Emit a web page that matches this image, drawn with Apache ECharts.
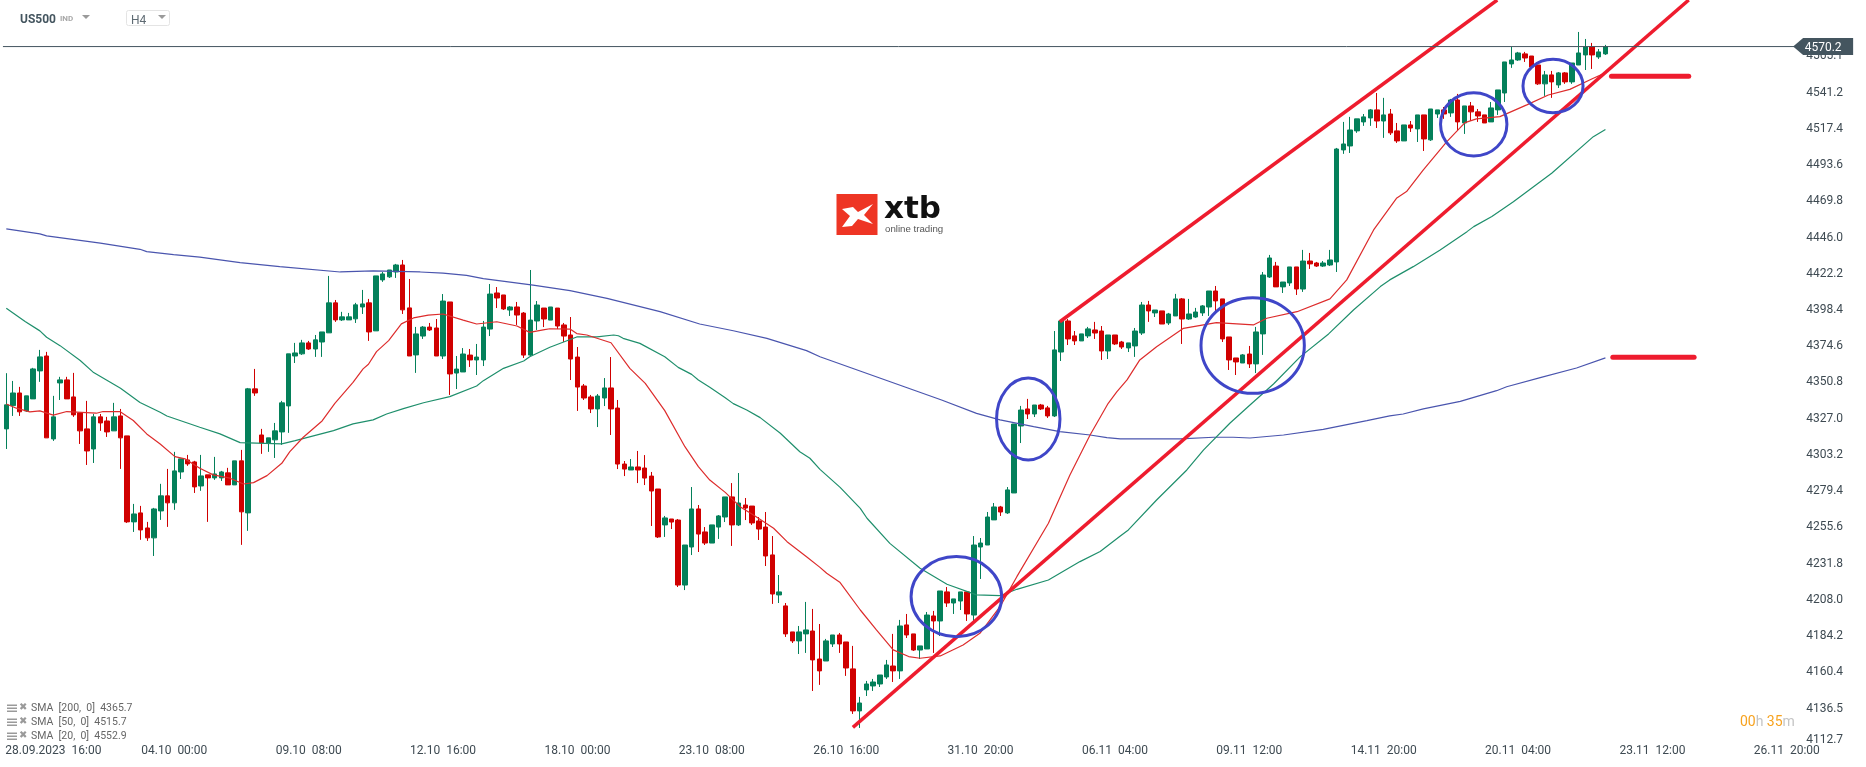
<!DOCTYPE html>
<html>
  <head>
    <meta charset="utf-8" />
    <title>US500 H4</title>
    <script src="https://cdn.jsdelivr.net/npm/echarts@6/dist/echarts.min.js"></script>
    <style>
      html, body { margin: 0; padding: 0; background: #fff; }
      #main { width: 1866px; height: 767px; }
    </style>
  </head>
  <body>
    <div id="main"></div>

    <script type="text/javascript">
      // open, close, low, high
      const ohlc = [
        [4319.0,4334.8,4305.8,4355.6],[4334.3,4342.6,4327.5,4350.5],[4342.6,4330.2,4327.5,4346.6],[4330.8,4340.7,4330.2,4340.7],
        [4338.7,4358.4,4338.7,4359.1],[4357.1,4366.3,4349.9,4370.9],[4366.9,4313.1,4313.1,4369.6],[4312.4,4326.9,4311.1,4340.7],
        [4349.2,4351.2,4338.0,4353.2],[4351.2,4338.7,4338.7,4353.2],[4340.0,4328.2,4326.9,4355.8],[4329.5,4317.7,4309.1,4329.5],
        [4319.0,4304.5,4295.3,4337.4],[4305.8,4326.9,4296.6,4328.8],[4326.9,4322.9,4317.7,4328.8],[4324.2,4317.0,4313.7,4326.9],
        [4317.7,4326.9,4317.7,4336.1],[4327.5,4313.1,4292.7,4332.1],[4314.4,4257.9,4257.2,4314.4],[4257.9,4263.1,4251.3,4269.7],
        [4263.8,4252.6,4246.1,4268.4],[4253.9,4247.4,4245.4,4257.9],[4247.4,4266.4,4235.5,4267.1],[4265.1,4275.0,4259.2,4282.9],
        [4275.0,4270.4,4254.6,4292.7],[4270.4,4291.4,4265.8,4303.9],[4290.7,4299.3,4286.1,4299.3],[4298.6,4296.0,4294.7,4301.9],
        [4297.3,4280.9,4276.9,4298.0],[4281.5,4288.1,4278.3,4301.9],[4288.8,4286.8,4257.9,4288.8],[4286.8,4289.4,4285.5,4300.6],
        [4286.8,4290.7,4284.8,4291.4],[4290.1,4282.2,4282.2,4293.4],[4282.2,4298.0,4282.2,4298.0],[4298.0,4264.5,4242.8,4305.2],
        [4263.8,4345.3,4252.0,4345.9],[4345.3,4342.6,4340.7,4358.4],[4315.0,4309.8,4302.6,4319.0],[4309.8,4313.1,4303.9,4313.1],
        [4311.8,4317.7,4299.9,4322.9],[4317.0,4336.1,4308.5,4337.4],[4334.1,4368.3,4316.4,4368.3],[4366.9,4368.9,4362.3,4375.5],
        [4368.3,4375.5,4367.6,4377.5],[4375.5,4371.5,4370.9,4376.8],[4371.5,4377.5,4366.3,4380.7],[4376.1,4382.7,4366.3,4382.7],
        [4382.1,4401.8,4382.1,4419.5],[4401.8,4390.6,4389.3,4403.7],[4390.6,4392.6,4389.9,4395.9],[4390.6,4392.6,4390.6,4395.2],
        [4391.3,4400.5,4388.6,4401.8],[4399.1,4401.1,4394.5,4410.3],[4401.8,4382.7,4376.8,4404.4],[4383.4,4419.5,4383.4,4419.5],
        [4416.9,4420.8,4415.6,4422.1],[4418.9,4423.4,4418.2,4423.4],[4422.1,4426.7,4418.2,4427.4],[4426.7,4397.2,4394.5,4430.0],
        [4398.5,4366.9,4366.9,4417.5],[4367.6,4381.4,4355.8,4386.0],[4380.0,4385.9,4378.1,4386.6],[4385.9,4384.0,4383.3,4388.6],
        [4385.3,4366.9,4366.9,4391.2],[4366.9,4403.0,4364.9,4407.6],[4402.4,4355.1,4341.3,4402.4],[4355.7,4358.3,4345.2,4366.9],
        [4356.4,4368.2,4356.4,4372.1],[4367.5,4364.3,4359.7,4371.5],[4364.3,4366.2,4354.4,4374.8],[4364.3,4385.9,4360.3,4389.9],
        [4384.6,4407.6,4380.0,4414.2],[4408.3,4405.0,4398.4,4412.2],[4407.0,4397.8,4397.1,4407.0],[4397.1,4399.1,4393.2,4399.7],
        [4399.1,4393.8,4387.3,4402.4],[4395.1,4367.5,4365.6,4395.8],[4367.5,4390.5,4366.9,4423.4],[4389.9,4400.4,4384.0,4403.0],
        [4398.4,4391.2,4385.9,4398.4],[4390.5,4399.1,4390.5,4399.1],[4398.4,4386.6,4384.6,4398.4],[4387.3,4380.0,4376.1,4388.6],
        [4380.7,4364.9,4351.1,4392.5],[4366.2,4346.5,4330.8,4372.8],[4347.2,4339.3,4338.0,4348.5],[4340.0,4332.1,4329.4,4341.3],
        [4332.1,4340.6,4320.2,4341.9],[4339.3,4345.9,4334.0,4352.4],[4345.9,4332.1,4315.0,4366.2],[4332.7,4295.9,4292.6,4338.0],
        [4295.9,4292.6,4288.0,4297.9],[4292.0,4294.0,4292.0,4299.2],[4294.0,4292.0,4283.4,4304.5],[4293.3,4286.7,4282.1,4301.8],
        [4288.0,4278.2,4255.2,4290.7],[4279.5,4248.0,4247.3,4279.5],[4255.9,4260.5,4248.0,4261.8],[4259.8,4257.8,4253.2,4259.8],
        [4259.1,4216.4,4215.1,4259.8],[4216.4,4242.7,4213.1,4242.7],[4241.4,4266.4,4236.1,4280.8],[4266.4,4249.9,4238.1,4269.0],
        [4251.3,4244.0,4242.7,4254.5],[4244.0,4255.9,4244.0,4255.9],[4254.5,4261.8,4246.7,4262.4],[4261.1,4274.3,4257.8,4274.3],
        [4274.3,4255.9,4242.1,4283.4],[4255.9,4270.3,4255.2,4290.0],[4269.0,4267.0,4259.1,4273.6],[4268.3,4257.2,4255.9,4268.3],
        [4258.5,4253.2,4246.0,4261.1],[4254.5,4235.5,4228.9,4264.4],[4236.2,4210.5,4204.0,4248.6],[4209.9,4211.9,4204.6,4223.0],
        [4202.7,4184.3,4182.3,4204.6],[4185.6,4179.7,4178.3,4185.6],[4179.7,4185.6,4171.1,4189.5],[4184.3,4186.9,4171.8,4205.3],
        [4186.2,4167.2,4146.8,4200.7],[4167.8,4160.0,4150.8,4190.8],[4166.5,4179.7,4166.5,4181.0],[4177.7,4183.6,4175.7,4183.6],
        [4183.6,4177.7,4171.8,4184.9],[4179.0,4161.9,4156.7,4179.0],[4161.3,4133.7,4131.7,4176.4],[4133.7,4138.9,4122.5,4142.9],
        [4147.5,4151.4,4143.5,4153.4],[4150.1,4152.7,4146.8,4154.7],[4151.4,4157.3,4149.4,4157.3],[4156.0,4163.9,4154.7,4167.2],
        [4163.2,4160.0,4152.7,4184.3],[4160.0,4189.5,4154.7,4193.5],[4190.2,4183.6,4181.6,4197.4],[4184.3,4173.7,4173.1,4184.3],
        [4173.7,4176.4,4167.8,4176.4],[4174.4,4196.7,4174.4,4198.7],[4196.1,4192.8,4171.8,4199.4],[4192.8,4212.5,4182.9,4212.5],
        [4211.9,4204.6,4202.0,4215.1],[4204.6,4207.3,4197.4,4207.3],[4205.9,4211.9,4200.0,4211.9],[4211.9,4197.4,4192.8,4211.9],
        [4196.7,4242.7,4192.8,4248.6],[4241.4,4244.0,4220.4,4247.3],[4242.7,4261.1,4242.7,4264.4],[4259.2,4267.7,4259.2,4270.3],
        [4267.7,4264.4,4261.8,4268.4],[4263.8,4278.9,4263.1,4280.8],[4276.9,4322.2,4276.9,4322.2],[4320.9,4331.4,4309.7,4334.1],
        [4332.1,4328.8,4325.5,4338.7],[4328.8,4334.7,4326.8,4334.7],[4334.7,4332.1,4331.4,4335.4],[4332.8,4327.5,4326.2,4334.1],
        [4327.5,4370.9,4326.8,4383.3],[4369.5,4389.9,4363.6,4389.9],[4389.9,4378.1,4374.1,4391.2],[4380.1,4376.8,4374.1,4383.3],
        [4376.8,4381.4,4376.8,4381.4],[4380.1,4384.7,4378.7,4386.0],[4384.0,4382.0,4378.1,4389.3],[4383.3,4370.2,4364.3,4386.6],
        [4370.2,4380.7,4364.9,4380.7],[4380.7,4374.8,4374.1,4380.7],[4376.1,4372.8,4371.5,4376.8],[4372.2,4375.5,4369.5,4375.5],
        [4373.5,4383.3,4366.3,4385.3],[4382.0,4400.4,4380.7,4402.4],[4400.4,4396.5,4389.3,4403.1],[4395.2,4397.1,4392.5,4397.1],
        [4396.5,4387.9,4387.9,4396.5],[4388.6,4394.5,4387.3,4395.2],[4393.2,4404.4,4393.2,4407.7],[4404.4,4391.2,4374.8,4405.0],
        [4391.2,4394.5,4390.6,4404.4],[4392.5,4395.8,4391.9,4398.5],[4395.2,4399.8,4393.2,4400.4],[4399.1,4409.6,4393.2,4409.6],
        [4409.6,4403.1,4395.8,4412.9],[4404.4,4378.1,4376.1,4404.4],[4379.4,4364.3,4357.7,4379.4],[4365.6,4363.0,4354.4,4365.6],
        [4362.3,4367.6,4362.3,4368.2],[4368.2,4361.7,4359.0,4373.5],[4361.7,4382.7,4355.7,4386.0],[4381.4,4420.1,4367.6,4422.1],
        [4418.8,4431.3,4418.2,4433.3],[4426.0,4412.3,4412.3,4428.7],[4412.3,4415.5,4408.3,4415.5],[4414.9,4425.4,4412.9,4425.4],
        [4425.4,4410.9,4407.0,4425.4],[4410.9,4429.3,4409.0,4436.6],[4429.3,4427.4,4424.1,4434.6],[4428.0,4426.0,4425.4,4428.7],
        [4426.0,4428.0,4425.4,4429.3],[4426.7,4430.0,4426.0,4436.6],[4428.7,4502.9,4422.1,4503.6],[4502.3,4506.2,4499.7,4520.7],
        [4504.9,4515.4,4500.3,4524.0],[4514.8,4522.7,4513.5,4522.7],[4520.7,4524.0,4518.1,4525.9],[4523.3,4528.6,4518.1,4529.2],
        [4528.6,4521.3,4516.7,4539.7],[4521.3,4525.3,4510.2,4536.5],[4525.9,4513.5,4512.1,4529.2],[4514.8,4508.2,4506.9,4520.0],
        [4508.2,4518.7,4508.2,4518.7],[4518.7,4516.7,4514.1,4521.3],[4516.1,4525.3,4507.5,4525.3],[4525.3,4509.5,4501.6,4525.3],
        [4508.9,4529.2,4508.2,4529.2],[4525.9,4528.6,4523.3,4528.6],[4528.6,4525.9,4522.7,4530.5],[4526.6,4535.1,4524.0,4535.8],
        [4535.1,4520.7,4514.8,4539.1],[4520.0,4531.2,4512.8,4531.2],[4531.2,4527.3,4521.3,4533.8],[4527.3,4524.6,4520.7,4529.2],
        [4525.3,4520.0,4520.0,4525.3],[4520.7,4529.9,4520.7,4533.8],[4528.6,4541.7,4525.3,4541.7],[4539.7,4560.1,4533.8,4560.1],
        [4558.8,4561.4,4556.2,4570.0],[4561.4,4566.0,4560.8,4566.7],[4565.4,4562.7,4560.1,4566.7],[4564.0,4556.8,4556.8,4564.0],
        [4558.1,4545.7,4545.0,4558.1],[4545.7,4551.6,4537.8,4554.2],[4551.6,4547.0,4536.5,4554.2],[4545.0,4552.9,4543.0,4553.5],
        [4552.9,4547.0,4545.7,4553.5],[4547.0,4559.4,4545.7,4559.4],[4558.1,4566.0,4558.1,4579.8],[4564.7,4570.0,4554.8,4575.2],
        [4570.0,4564.7,4555.5,4572.6],[4563.4,4566.7,4562.1,4568.6],[4565.4,4570.2,4564.7,4571.3]
      ];

      // moving averages, [candle number, price]
      const sma200 = [
        [0,4450.4],[5,4447.1],[6,4445.8],[14,4441],[19.9,4437],[20.9,4435.5],[24.9,4433.5],[28.8,4431.8],[34.8,4428.3],[40.7,4425.6],
        [49.7,4422.1],[54.6,4422.8],[61.6,4422.1],[65,4421.4],[68.5,4419.9],[71,4417.7],[78.4,4413.5],[83.9,4409.8],[89.4,4404.8],
        [97.3,4396],[103.2,4387.9],[108.2,4383.5],[113.2,4378.5],[119.1,4370.4],[121.1,4366.4],[139.2,4338],[144.4,4329.2],[147.9,4324.9],
        [152.9,4320.5],[156.8,4317.2],[161.3,4315],[163.8,4313.3],[165.8,4312.4],[174.7,4312.4],[179.7,4313.5],[182.6,4313.5],[185.1,4313],
        [190.1,4315],[196,4318.7],[202.5,4324.4],[205.9,4327.5],[207.9,4328.8],[210.9,4332.1],[216.4,4337.1],[221.8,4344.1],[223.3,4346.7],
        [228.3,4352.7],[233.7,4359],[238,4365.7]
      ];
      const sma50 = [
        [0,4398.3],[2.8,4389.5],[5,4383.4],[6,4379.2],[8,4373.7],[11,4363.9],[13,4356],[17,4345.7],[19.9,4336.3],[22.9,4329.9],[23.9,4327.5],
        [28.8,4320.1],[31.8,4315.7],[34.8,4310],[41,4309.1],[43,4311.3],[48.7,4317.9],[51.6,4322.3],[54.6,4324.9],[56.6,4328.8],[59.1,4332.3],
        [62.1,4336.2],[66,4340.2],[70,4347.2],[71,4350.7],[74,4358.8],[77,4363.6],[77.9,4366.4],[80.9,4372.6],[84.9,4379.4],[87.9,4379.4],
        [90.4,4380.7],[91.1,4380.2],[91.8,4378.5],[94.3,4375.2],[98,4366.4],[100,4359.4],[102,4354.8],[103,4351.1],[104.7,4346.3],[107,4339.5],
        [108.2,4335.6],[110.2,4331.4],[112.2,4326.4],[115.2,4316.1],[118.1,4304],[119.6,4299.7],[121.1,4292.4],[124.1,4280.6],[127.1,4266.8],
        [128.1,4260.3],[131.5,4243.8],[136,4227.4],[140,4216.9],[144.4,4209.9],[147.9,4209.4],[150.4,4213.6],[155.1,4219.7],[159.8,4231.8],
        [162.8,4238.4],[165.8,4248.6],[167,4252.6],[171.2,4272.3],[175.7,4292],[178.2,4305.2],[182.1,4322.7],[185.1,4334.7],[188.6,4348.5],
        [192.6,4366.5],[196.8,4381.4],[200.5,4397.1],[204.5,4412.5],[205.9,4416.9],[209.4,4425.6],[213.4,4436.6],[217.4,4448.6],[218.4,4451.9],
        [221.1,4458.5],[224.3,4468.3],[230,4487],[236.2,4511],[238,4515.7]
      ];
      const sma20 = [
        [0,4335.4],[1.5,4332.6],[3.5,4330.2],[5,4330.8],[7,4328],[9,4330.4],[13.4,4329.3],[14.4,4330.4],[16.9,4330.4],[18.9,4324.5],[20.9,4315.7],
        [22.9,4309.1],[25.1,4300.8],[26.6,4299.3],[28.8,4293.1],[30.8,4288.8],[33.3,4286.6],[35.3,4282.8],[36.8,4283.7],[38.8,4288.3],[41,4296.4],
        [42.2,4304.1],[44.2,4313.5],[47,4324.2],[48.9,4335.8],[51.6,4349.6],[53.1,4358.4],[53.9,4361.5],[55.1,4369.8],[56.9,4377],[58.8,4388],
        [60.6,4391.9],[62.8,4393.8],[65,4394.5],[68,4390.5],[70,4387.9],[73,4389.4],[76,4386.6],[77.9,4382.4],[79.9,4384],[80.9,4384.8],[83.9,4384.6],
        [84.9,4381.6],[86.4,4380.7],[90,4375.6],[92.8,4358.8],[95.1,4348.9],[98,4331],[101,4307.3],[103,4294.2],[104.7,4285.4],[107,4277.3],[109.2,4267.9],
        [111.2,4262.4],[114.2,4253.7],[116.2,4244.9],[119.1,4235],[121.1,4228],[122.1,4224.1],[124.1,4218],[127.1,4200],[129.5,4186.9],[132,4173.8],
        [134.3,4169.4],[136,4168.3],[139,4169.8],[142.4,4177],[144.9,4184.7],[147.9,4202.2],[150.4,4221.9],[155.1,4257],[158.3,4288.7],[161.3,4315],
        [164,4335.8],[165.3,4343.5],[166.8,4351.2],[168.7,4364.3],[171.2,4373],[175.2,4385.1],[180.1,4388.8],[185.6,4387.3],[187.6,4391.7],[192.1,4396],
        [197,4404.4],[199.5,4416.9],[203.5,4449.7],[206.9,4470.5],[208.4,4474.9],[210.9,4489.2],[214.4,4507.8],[217.1,4520.2],[218.8,4522.7],[222.3,4524.2],
        [226.3,4531.9],[229.5,4538.4],[232.7,4542.1],[236.2,4549.4],[238,4552.9]
      ];

      // hand drawn marks on the chart
      const trendLow = [[126,4122.9],[250.4,4600.8]];
      const trendHigh = [[156.8,4389.4],[221.9,4600.8]];
      const levelTop = [[238.9,4550.7],[250.4,4550.7]];
      const levelBottom = [[239.1,4366],[251.2,4366]];
      // center candle, center price, half width in candles, half height in price
      const circles = [
        [141.4,4208.8,6.74,26.3],
        [152.1,4325.5,4.72,26.9],
        [185.5,4373.8,7.69,31.4],
        [218.4,4519.1,4.94,20.8],
        [230.2,4544.3,4.47,17.5]
      ];

      const lastPrice = 4570.2;
      const priceLine = [[-0.5,lastPrice],[266.1,lastPrice]];
      const priceTicks = [4112.7,4136.5,4160.4,4184.2,4208.0,4231.8,4255.6,4279.4,4303.2,4327.0,4350.8,4374.6,4398.4,4422.2,4446.0,4469.8,4493.6,4517.4,4541.2,4565.1];
      const timeIndex = [7,25,45,65,85,105,125,145,165,185,205,225,245,265];
      const timeLabels = ['28.09.2023  16:00','04.10  00:00','09.10  08:00','12.10  16:00','18.10  00:00','23.10  08:00','26.10  16:00','31.10  20:00','06.11  04:00','09.11  12:00','14.11  20:00','20.11  04:00','23.11  12:00','26.11  20:00'];
      const legendRows = ['SMA  [200,  0]  4365.7','SMA  [50,  0]  4515.7','SMA  [20,  0]  4552.9'];

      const slots = 277;
      const categories = [];
      for (let i = 0; i < slots; i++) {
        const k = timeIndex.indexOf(i);
        categories.push(k >= 0 ? timeLabels[k] : '');
      }

      const GREEN = '#04805a';
      const RED = '#d00000';
      const FONT = 'Roboto';
      const TEXT = '#3e4a52';

      var myChart = echarts.init(document.getElementById('main'));

      function lineSeries(data, color, width, extra) {
        return Object.assign({
          type: 'line',
          xAxisIndex: 1,
          data: data,
          symbol: 'none',
          silent: true,
          lineStyle: { color: color, width: width },
          z: 3
        }, extra || {});
      }

      // left side legend rows with their little icons
      const legendGraphics = [];
      legendRows.forEach((row, i) => {
        const y = 708.5 + i * 14;
        [-3, 0, 3].forEach((d) => {
          legendGraphics.push({ type: 'rect', shape: { x: 7, y: y + d - 1, width: 10, height: 1.5 }, style: { fill: '#9a9a9a' } });
        });
        legendGraphics.push({ type: 'text', x: 19, y: y - 6, style: { text: '✖', font: '10px "DejaVu Sans"', fill: '#9a9a9a' } });
        legendGraphics.push({ type: 'text', x: 31, y: y - 6, style: { text: row, font: '10.5px ' + FONT, fill: '#666' } });
      });

      const option = {
        animation: false,
        backgroundColor: '#fff',
        grid: { left: 2.94, right: 1.9, top: 0, bottom: 22 },
        xAxis: [
          {
            type: 'category',
            data: categories,
            axisLine: { show: false },
            axisTick: { show: false },
            splitLine: { show: false },
            axisLabel: {
              interval: (i, v) => v !== '',
              margin: 0,
              hideOverlap: false,
              color: TEXT,
              fontFamily: FONT,
              fontSize: 12
            }
          },
          { type: 'value', show: false, min: -0.5, max: slots - 0.5, splitLine: { show: false } }
        ],
        yAxis: {
          type: 'value',
          position: 'right',
          min: 4111.3,
          max: 4600.8,
          axisLine: { show: false },
          axisTick: { show: false },
          splitLine: { show: false },
          axisLabel: {
            inside: true,
            margin: 21,
            padding: [4, 0, 0, 0],
            customValues: priceTicks,
            color: TEXT,
            fontFamily: FONT,
            fontSize: 12,
            formatter: (v) => (v < 4113 ? '{low|' + v.toFixed(1) + '}' : v.toFixed(1)),
            rich: { low: { padding: [0, 0, 9, 0], color: TEXT, fontFamily: FONT, fontSize: 12 } }
          }
        },
        series: [
          {
            type: 'candlestick',
            data: ohlc,
            barWidth: 5,
            silent: true,
            z: 2,
            itemStyle: { color: GREEN, color0: RED, borderColor: GREEN, borderColor0: RED, borderWidth: 1 }
          },
          lineSeries(sma200, '#4a55ae', 1.2),
          lineSeries(sma50, '#1f8f6c', 1.2),
          lineSeries(sma20, '#dd2c2c', 1.2),
          lineSeries(trendLow, '#ee1c2e', 3.5, { z: 5 }),
          lineSeries(trendHigh, '#ee1c2e', 3.5, { z: 5 }),
          lineSeries(levelTop, '#ee1c2e', 5, { z: 5, lineStyle: { color: '#ee1c2e', width: 5, cap: 'round' } }),
          lineSeries(levelBottom, '#ee1c2e', 5, { z: 5, lineStyle: { color: '#ee1c2e', width: 5, cap: 'round' } }),
          {
            type: 'custom',
            xAxisIndex: 1,
            silent: true,
            z: 6,
            data: circles,
            renderItem: function (params, api) {
              const c = api.coord([api.value(0), api.value(1)]);
              const s = api.size([api.value(2), api.value(3)]);
              return {
                type: 'ellipse',
                shape: { cx: c[0], cy: c[1], rx: s[0], ry: s[1] },
                style: { fill: 'none', stroke: '#3f46c8', lineWidth: 3 }
              };
            }
          },
          lineSeries(priceLine, '#44555f', 1, {
            z: 7,
            markPoint: {
              silent: true,
              symbol: 'path://M0 8.5 L10 0 L60 0 L60 17 L10 17 Z',
              symbolSize: [60, 17],
              label: {
                show: true,
                position: 'inside',
                offset: [0, 1],
                color: '#fff',
                fontFamily: FONT,
                fontSize: 12,
                formatter: lastPrice.toFixed(1)
              },
              itemStyle: { color: '#44555f' },
              data: [{ coord: [270.4, lastPrice] }]
            }
          })
        ],
        graphic: [
          // header
          { type: 'text', x: 20, y: 14, style: { text: 'US500', font: 'bold 12px ' + FONT, fill: '#44555f' } },
          { type: 'text', x: 60, y: 15, style: { text: 'IND', font: 'bold 8px ' + FONT, fill: '#a8a8a8' } },
          { type: 'polygon', shape: { points: [[82, 15], [90, 15], [86, 19]] }, style: { fill: '#9a9a9a' } },
          { type: 'rect', shape: { x: 126.5, y: 10.5, width: 43, height: 15, r: 2 }, style: { fill: '#fff', stroke: '#e4e4e4', lineWidth: 1 } },
          { type: 'text', x: 131, y: 15, style: { text: 'H4', font: '12px ' + FONT, fill: '#5f6b73' } },
          { type: 'polygon', shape: { points: [[158, 15], [166, 15], [162, 19]] }, style: { fill: '#9a9a9a' } },
          // logo
          { type: 'rect', shape: { x: 836.5, y: 194, width: 41, height: 41 }, style: { fill: '#ee3524' } },
          { type: 'polygon', shape: { points: [[842, 209], [853, 207], [858, 212], [873, 204], [864, 215], [873, 224], [858, 219], [852, 226], [842, 227], [850, 216]] }, style: { fill: '#fff' } },
          { type: 'text', x: 884, y: 194, style: { text: 'xtb', font: 'bold 31px "DejaVu Sans"', fill: '#111' } },
          { type: 'text', x: 885, y: 224, style: { text: 'online trading', font: '9.7px "Liberation Sans"', fill: '#555' } },
          // countdown
          {
            type: 'text',
            x: 1740,
            y: 715,
            style: {
              text: '{o|00}{g|h} {o|35}{g|m}',
              rich: {
                o: { fill: '#f7a21e', font: '14px ' + FONT },
                g: { fill: '#c4c4c4', font: '14px ' + FONT }
              }
            }
          }
        ].concat(legendGraphics)
      };

      myChart.setOption(option);
    </script>
  </body>
</html>
